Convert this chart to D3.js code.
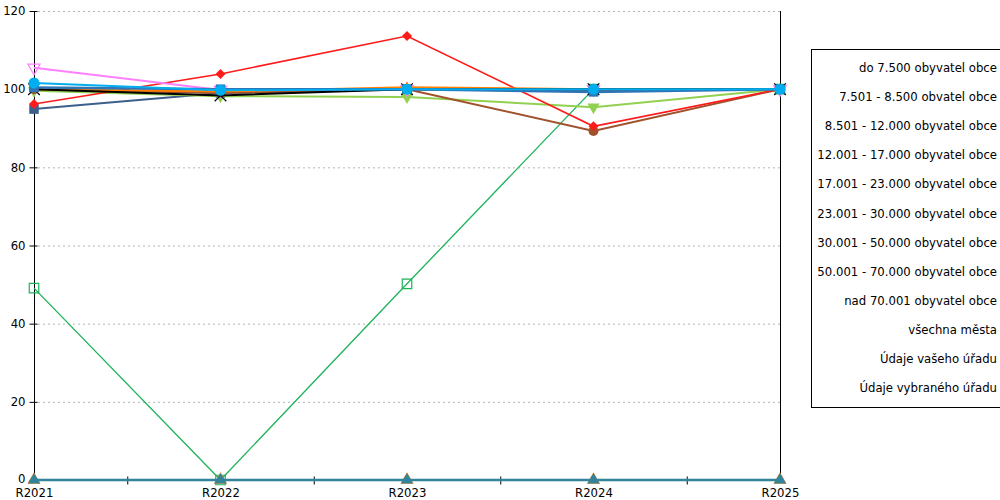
<!DOCTYPE html>
<html>
<head>
<meta charset="utf-8">
<script src="https://cdn.jsdelivr.net/npm/d3@7"></script>
<style>
  body { margin: 0; background: #fff; }
  svg text { font-family: "DejaVu Sans", sans-serif; font-size: 11.7px; fill: #000; }
</style>
</head>
<body>
<svg id="chart" width="1000" height="500"></svg>
<script>
// categories and y ticks
var years = ['R2021', 'R2022', 'R2023', 'R2024', 'R2025'];
var yTicks = [0, 20, 40, 60, 80, 100, 120];

// legend names (in order)
var names = [
    'do 7.500 obyvatel obce',
    '7.501 - 8.500 obvatel obce',
    '8.501 - 12.000 obyvatel obce',
    '12.001 - 17.000 obyvatel obce',
    '17.001 - 23.000 obyvatel obce',
    '23.001 - 30.000 obyvatel obce',
    '30.001 - 50.000 obyvatel obce',
    '50.001 - 70.000 obyvatel obce',
    'nad 70.001 obyvatel obce',
    'všechna města',
    'Údaje vašeho úřadu',
    'Údaje vybraného úřadu'
];

// series values
var vDo7500    = [94.9, 99.0, 100.0, 99.5, 100.0];
var v7501      = [100.0, 99.4, 100.5, 100.0, 100.0];
var v8501      = [100.0, 98.4, 100.0, 100.0, 100.0];
var v12001     = [100.0, 99.0, 100.0, 89.3, 100.0];
var v17001     = [99.6, 98.2, 98.0, 95.4, 100.0];
var v23001     = [96.2, 103.9, 113.6, 90.5, 100.0];
var v30001     = [101.6, 99.7, 100.0, 100.0, 100.0];
var v50001     = [105.5, 99.8, 100.0, 100.0, 100.0];
var vNad70001  = [100.4, 100.0, 100.0, 99.3, 100.0];
var vMesta     = [49.1, 0, 50.2, 100.0, 100.0];
var vVybrany   = [0, 0, 0, 0, 0];
var vVas       = [0, 0, 0, 0, 0];

// draw order (bottom to top) with colour and marker
var series = [
    { v: vMesta,    c: '#1db35a', m: 'sq',   open: true,  w: 1.3 },
    { v: vDo7500,   c: '#3c5f8c', m: 'sq',   open: false, w: 2 },
    { v: v17001,    c: '#92d050', m: 'tdn',  open: false, w: 2, size: 12 },
    { v: v12001,    c: '#a0522d', m: 'circ', open: false, w: 2 },
    { v: v23001,    c: '#ff1a1a', m: 'dia',  open: false, w: 1.6 },
    { v: v50001,    c: '#ff80ff', m: 'tdn',  open: true,  w: 2, size: 12 },
    { v: v7501,     c: '#ff8000', m: 'tup',  open: false, w: 2 },
    { v: v8501,     c: '#000000', m: 'x',    open: false, w: 2 },
    { v: vNad70001, c: '#2e75b6', m: 'sq',   open: false, w: 2.5 },
    { v: v30001,    c: '#00aeef', m: 'circ', open: false, w: 2, size: 11 },
    { v: vVybrany,  c: '#ff7f0e', m: 'tup',  open: false, w: 2, size: 13 },
    { v: vVas,      c: '#31849b', m: 'tup',  open: false, w: 2.5, size: 12 }
];

var svg = d3.select('#chart');
var plot = { l: 34, r: 780, t: 11, b: 480 };

var x = d3.scalePoint().domain(years).range([plot.l, plot.r]);
var y = d3.scaleLinear().domain([0, 120]).range([plot.b, plot.t]);
var step = x.step();

// grid lines
svg.append('g')
    .selectAll('line')
    .data(yTicks.filter(function (d) { return d > 0; }))
    .enter()
    .append('line')
    .attr('x1', plot.l + 4).attr('x2', plot.r)
    .attr('y1', function (d) { return y(d) + 0.5; })
    .attr('y2', function (d) { return y(d) + 0.5; })
    .style('stroke', '#b4b4b4')
    .style('stroke-dasharray', '2,3');

// y axis
var yAxis = svg.append('g')
    .attr('transform', 'translate(' + [plot.l + 0.5, 0] + ')')
    .call(d3.axisLeft(y).tickValues(yTicks).tickSize(5).tickPadding(4));
yAxis.select('.domain').remove();
yAxis.append('line')
    .attr('y1', plot.t).attr('y2', plot.b)
    .style('stroke', '#000');
yAxis.selectAll('.tick line').attr('x2', -5).attr('x1', 3);
yAxis.selectAll('text').style('font-family', '"DejaVu Sans", sans-serif').style('font-size', '11.7px').style('fill', '#000');
// the "0" label sits a touch higher, clear of R2021
yAxis.selectAll('.tick').filter(function (d) { return d === 0; }).select('text').attr('dy', '0.2em');

// right border line
svg.append('line')
    .attr('x1', plot.r + 0.5).attr('x2', plot.r + 0.5)
    .attr('y1', plot.t).attr('y2', plot.b)
    .style('stroke', '#000');

// x axis
var xAxis = svg.append('g')
    .attr('transform', 'translate(0,' + (plot.b + 0.5) + ')')
    .call(d3.axisBottom(x).tickSize(0).tickPadding(8));
xAxis.select('.domain').attr('d', 'M' + plot.l + ',0H' + plot.r).style('stroke', '#000');
xAxis.selectAll('text').style('font-family', '"DejaVu Sans", sans-serif').style('font-size', '11.7px').style('fill', '#000');
// separators between categories
xAxis.selectAll('.sep')
    .data(years.slice(1))
    .enter()
    .append('line')
    .attr('x1', function (d) { return x(d) - step / 2 + 0.5; })
    .attr('x2', function (d) { return x(d) - step / 2 + 0.5; })
    .attr('y1', -4).attr('y2', 4)
    .style('stroke', '#000');

// series
var line = d3.line()
    .x(function (d, i) { return x(years[i]); })
    .y(function (d) { return y(d); });

var symbolFor = {
    sq: d3.symbolSquare, tup: d3.symbolTriangle, tdn: d3.symbolTriangle,
    circ: d3.symbolCircle, dia: d3.symbolSquare, x: d3.symbolX
};

series.forEach(function (s) {
    var g = svg.append('g');
    g.append('path')
        .attr('d', line(s.v))
        .style('fill', 'none')
        .style('stroke', s.c)
        .style('stroke-width', s.w);

    var size = s.size || 10;
    var area = s.m === 'circ' ? Math.PI * size * size / 4
        : s.m === 'dia' ? size * size * 0.5
        : s.m === 'x' ? size * size * 0.9
        : s.m === 'sq' ? size * size * 0.9
        : size * size * 0.45;
    var sym = d3.symbol().type(symbolFor[s.m]).size(area);

    g.selectAll('path.mk')
        .data(s.v)
        .enter()
        .append('path')
        .attr('class', 'mk')
        .attr('d', sym)
        .attr('transform', function (d, i) {
            var rot = s.m === 'tdn' ? ' rotate(180)' : (s.m === 'dia' ? ' rotate(45)' : '');
            return 'translate(' + [x(years[i]), y(d)] + ')' + rot;
        })
        .style('fill', s.open ? '#fff' : (s.m === 'x' ? '#000' : s.c))
        .style('fill-opacity', s.open ? 0 : 1)
        .style('stroke', s.c)
        .style('stroke-width', s.open ? 1.2 : (s.m === 'x' ? 1.2 : 0));
});

// legend
var lg = svg.append('g');
lg.append('rect')
    .attr('x', 811.5).attr('y', 49.5)
    .attr('width', 200).attr('height', 358)
    .style('fill', '#fff')
    .style('stroke', '#000');
lg.selectAll('text')
    .data(names)
    .enter()
    .append('text')
    .attr('x', 997)
    .attr('y', function (d, i) { return 72 + i * 29.1; })
    .style('text-anchor', 'end')
    .text(function (d) { return d; });
</script>
</body>
</html>
